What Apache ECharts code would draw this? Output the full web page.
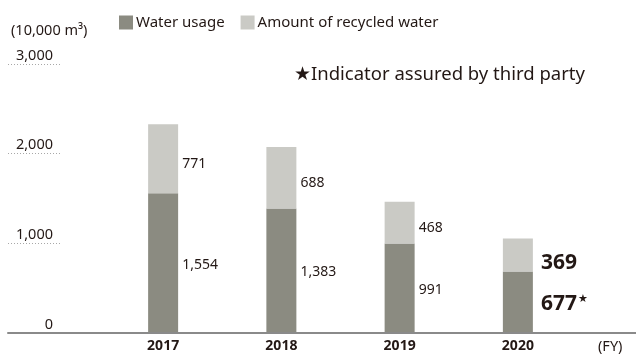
<!DOCTYPE html>
<html>
<head>
<meta charset="utf-8">
<script src="https://cdn.jsdelivr.net/npm/echarts@6/dist/echarts.min.js"></script>
<style>
  html, body { margin: 0; padding: 0; background: #fff; }
  #chart { width: 636px; height: 354px; }
</style>
</head>
<body>
<div id="chart"></div>
<script>
// Fiscal years and water volumes (10,000 m³)
const years = ['2017', '2018', '2019', '2020'];
const waterUsage = [1554, 1383, 991, 677];
const recycledWater = [771, 688, 468, 369];
const seriesNames = ['Water usage', 'Amount of recycled water'];
const unitLabel = '(10,000 m³)';
const noteLabel = '★Indicator assured by third party';
const axisUnit = '(FY)';
const yMax = 3000;
const yStep = 1000;

const FONT = 'Noto Sans';
const TEXT = '#231815';
const DARK = '#8b8b81';
const LIGHT = '#cacac5';

const plotTop = 64;
const plotHeight = 269;

const fmt = v => v.toLocaleString('en-US');
const lastIdx = years.length - 1;

// Value labels sit to the right of each segment; the latest year is emphasised.
function makeLabel(withStar) {
  return {
    show: true,
    position: 'right',
    distance: 4,
    offset: [0, withStar ? 2 : 5],
    color: TEXT,
    fontFamily: FONT,
    fontSize: 14,
    formatter: p => p.dataIndex === lastIdx
      ? (withStar ? `{big|${fmt(p.value)}}{star|★}` : `{big|${fmt(p.value)}}`)
      : fmt(p.value),
    rich: {
      big: {
        fontFamily: FONT, fontSize: 21, fontWeight: 'bold', color: TEXT,
        padding: withStar ? [0, 0, 0, 4] : [5, 0, 0, 4]
      },
      star: { fontFamily: FONT, fontSize: 11, color: TEXT, verticalAlign: 'top', padding: [0, 0, 10, 1] }
    }
  };
}

const chart = echarts.init(document.getElementById('chart'), null, { renderer: 'canvas' });

chart.setOption({
  animation: false,
  backgroundColor: '#fff',
  textStyle: { fontFamily: FONT },
  title: [
    { text: unitLabel, left: 6, top: 18, textStyle: { fontFamily: FONT, fontSize: 14.5, fontWeight: 'normal', color: TEXT } },
    { text: noteLabel, left: 289, top: 60, textStyle: { fontFamily: FONT, fontSize: 18.5, fontWeight: 'normal', color: TEXT } }
  ],
  legend: {
    left: 114, top: 10,
    itemWidth: 14, itemHeight: 14, itemGap: 16,
    icon: 'rect',
    textStyle: { fontFamily: FONT, fontSize: 15, color: TEXT, padding: [0, 0, 0, -2] },
    data: seriesNames
  },
  grid: [
    // bars
    { left: 104, width: 473, top: plotTop, height: plotHeight },
    // tick labels with short dotted guides
    { left: 8, width: 52, top: plotTop, height: plotHeight },
    // full-width baseline
    { left: 8, right: 0, top: plotTop, height: plotHeight }
  ],
  xAxis: [
    {
      gridIndex: 0, type: 'category', data: years,
      axisLine: { show: false }, axisTick: { show: false },
      axisLabel: { margin: 7, fontFamily: FONT, fontSize: 14, fontWeight: 'bold', color: TEXT },
      name: axisUnit, nameLocation: 'end', nameGap: 21,
      nameTextStyle: { fontFamily: FONT, fontSize: 14.5, color: TEXT, verticalAlign: 'top', padding: [7, 0, 0, 0] }
    },
    { gridIndex: 1, type: 'value', show: false },
    {
      gridIndex: 2, type: 'value',
      axisLine: { show: true, lineStyle: { color: '#8a8a8a', width: 2 } },
      axisTick: { show: false }, axisLabel: { show: false }, splitLine: { show: false }
    }
  ],
  yAxis: [
    { gridIndex: 0, type: 'value', min: 0, max: yMax, interval: yStep, show: false },
    {
      gridIndex: 1, type: 'value', min: 0, max: yMax, interval: yStep,
      axisLine: { show: false }, axisTick: { show: false },
      axisLabel: {
        inside: true, margin: 45, align: 'right', verticalAlign: 'bottom',
        lineHeight: 13, padding: [0, 0, 2, 0],
        fontFamily: FONT, fontSize: 14.5, color: TEXT, formatter: v => fmt(v)
      },
      splitLine: { show: true, lineStyle: { color: '#a8a8a8', type: [1, 2], width: 1 } }
    },
    { gridIndex: 2, type: 'value', min: 0, max: yMax, show: false }
  ],
  series: [
    {
      name: seriesNames[0], type: 'bar', stack: 'total', xAxisIndex: 0, yAxisIndex: 0,
      barWidth: 30, itemStyle: { color: DARK },
      label: makeLabel(true),
      data: waterUsage
    },
    {
      name: seriesNames[1], type: 'bar', stack: 'total', xAxisIndex: 0, yAxisIndex: 0,
      barWidth: 30, itemStyle: { color: LIGHT },
      label: makeLabel(false),
      data: recycledWater
    }
  ]
});
</script>
</body>
</html>
